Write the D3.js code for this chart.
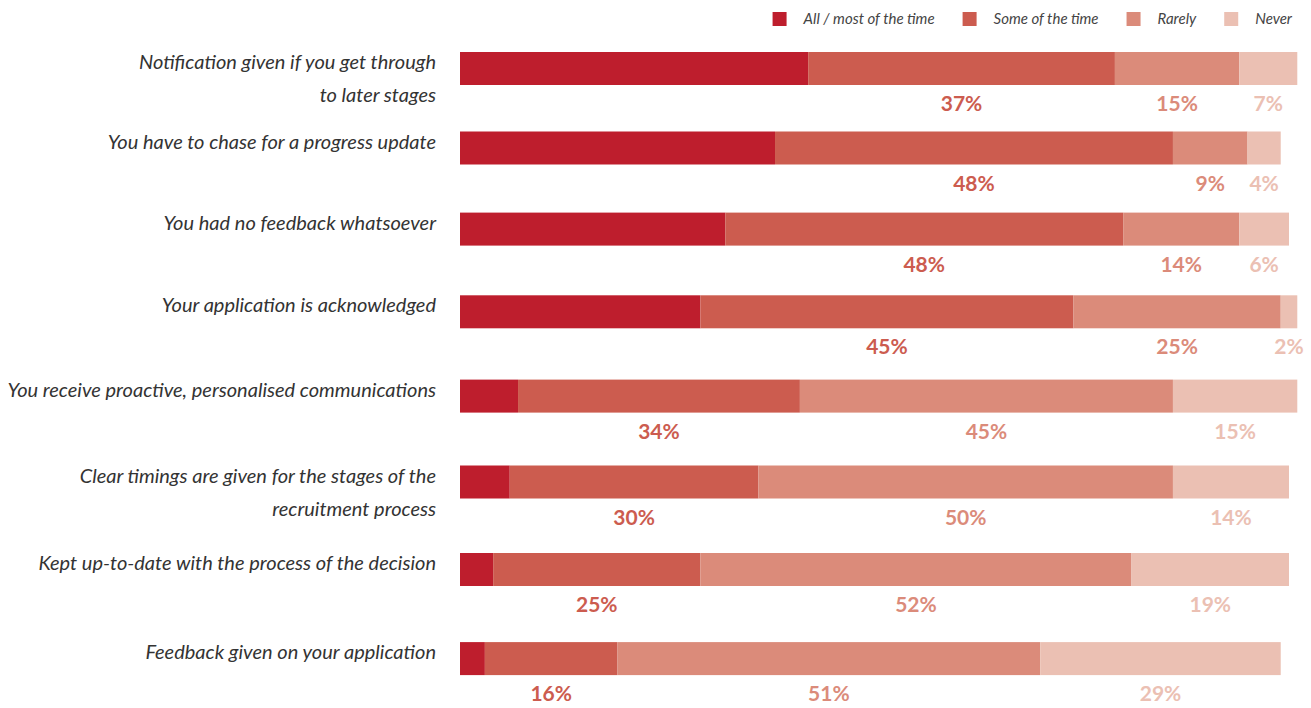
<!DOCTYPE html>
<html>
<head>
<meta charset="utf-8">
<script src="https://cdn.jsdelivr.net/npm/d3@7"></script>
<style>
  html, body { margin: 0; padding: 0; background: #fff; }
  svg { display: block; }
</style>
</head>
<body>
<svg id="chart" width="1311" height="708"></svg>
<script>
// Survey responses: how often each thing happens during recruitment (%)
const categories = [
  ["Notification given if you get through", "to later stages"],
  ["You have to chase for a progress update"],
  ["You had no feedback whatsoever"],
  ["Your application is acknowledged"],
  ["You receive proactive, personalised communications"],
  ["Clear timings are given for the stages of the", "recruitment process"],
  ["Kept up-to-date with the process of the decision"],
  ["Feedback given on your application"]
];
const seriesNames = ["All / most of the time", "Some of the time", "Rarely", "Never"];
const allMost  = [42, 38, 32, 29, 7, 6, 4, 3];
const someTime = [37, 48, 48, 45, 34, 30, 25, 16];
const rarely   = [15, 9, 14, 25, 45, 50, 52, 51];
const never    = [7, 4, 6, 2, 15, 14, 19, 29];
const colors   = ["#be1e2d", "#cc5c4f", "#db8b7a", "#ebc0b3"];

const series = [allMost, someTime, rarely, never];
const rows = categories.map((c, i) => {
  const r = { label: c };
  seriesNames.forEach((s, k) => { r[s] = series[k][i]; });
  return r;
});

const svg = d3.select("#chart");
const labelFont = "Lato, 'Open Sans', sans-serif";

// Horizontal percentage scale shared by all bars
const x = d3.scaleLinear().domain([0, 100]).range([460, 1289]);
const barH = 33;
// Row spacing widens slightly down the list
const rowTop = i => 52 + 79.5 * i + 0.8 * i * (i - 1);

const stack = d3.stack().keys(seriesNames);
const stacked = stack(rows);

const layers = svg.append("g").selectAll("g")
  .data(stacked)
  .join("g")
  .attr("fill", (d, k) => colors[k]);

layers.selectAll("rect")
  .data(d => d.map((p, i) => ({ p, i })))
  .join("rect")
  .attr("x", d => x(d.p[0]))
  .attr("y", d => rowTop(d.i))
  .attr("width", d => x(d.p[1]) - x(d.p[0]))
  .attr("height", barH);

// Value labels under each segment (not for the first series)
layers.filter((d, k) => k > 0).selectAll("text")
  .data(d => d.map((p, i) => ({ p, i })))
  .join("text")
  .attr("x", d => (x(d.p[0]) + x(d.p[1])) / 2)
  .attr("y", d => rowTop(d.i) + 59)
  .attr("text-anchor", "middle")
  .attr("font-family", labelFont)
  .attr("font-weight", 700)
  .attr("font-size", 21)
  .text(d => (d.p[1] - d.p[0]) + "%");

// Category labels, right aligned against the bars
const cat = svg.append("g").selectAll("text")
  .data(categories)
  .join("text")
  .attr("x", 436)
  .attr("y", (d, i) => rowTop(i) + 17)
  .attr("text-anchor", "end")
  .attr("font-family", labelFont)
  .attr("font-style", "italic")
  .attr("font-size", 20)
  .attr("fill", "#333");
cat.selectAll("tspan")
  .data(d => d)
  .join("tspan")
  .attr("x", 436)
  .attr("dy", (d, j) => j === 0 ? 0 : 33)
  .text(d => d);

// Legend, laid out right to left so it ends flush with the bars
const legend = svg.append("g");
const items = legend.selectAll("g")
  .data(seriesNames)
  .join("g");
items.append("rect")
  .attr("width", 14).attr("height", 14)
  .attr("y", 12)
  .attr("fill", (d, k) => colors[k]);
items.append("text")
  .attr("x", 31)
  .attr("y", 24)
  .attr("font-family", labelFont)
  .attr("font-style", "italic")
  .attr("font-size", 15)
  .attr("fill", "#444")
  .text(d => d);
let right = 1292;
const widths = [];
items.each(function () { widths.push(d3.select(this).select("text").node().getComputedTextLength()); });
const offsets = new Array(seriesNames.length);
for (let k = seriesNames.length - 1; k >= 0; k--) {
  offsets[k] = right - widths[k] - 31;
  right = offsets[k] - 28;
}
items.attr("transform", (d, k) => `translate(${offsets[k]},0)`);
</script>
</body>
</html>
